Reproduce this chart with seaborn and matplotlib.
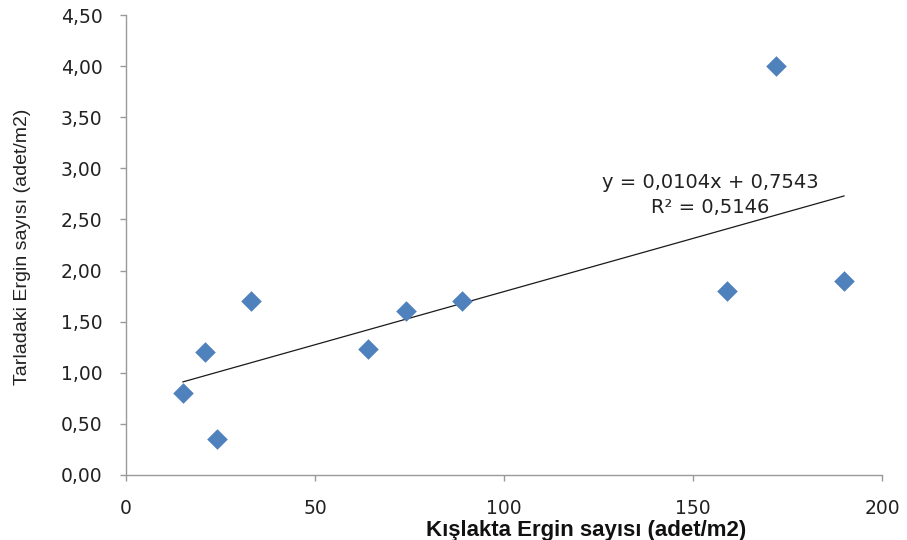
import matplotlib
matplotlib.use("Agg")
import matplotlib.pyplot as plt
import seaborn as sns
import numpy as np
import pandas as pd
from matplotlib.ticker import FuncFormatter

# Data
kislakta = [15, 21, 24, 33, 64, 74, 89, 159, 172, 190]
tarladaki = [0.80, 1.20, 0.35, 1.70, 1.23, 1.60, 1.70, 1.80, 4.00, 1.90]
slope = 0.0104
intercept = 0.7543
r2 = 0.5146
x_ticks = [0, 50, 100, 150, 200]
y_ticks = [0, 0.5, 1.0, 1.5, 2.0, 2.5, 3.0, 3.5, 4.0, 4.5]

sns.set_theme(style="white")
plt.rcParams['font.family'] = ['DejaVu Sans']

df = pd.DataFrame({"x": kislakta, "y": tarladaki})
xs = np.array([min(kislakta), max(kislakta)])
trend = pd.DataFrame({"x": xs, "y": slope * xs + intercept})

fig = plt.figure(figsize=(9.07, 5.40), dpi=100)
ax = fig.add_axes([126/907, 1-475/540, (882-126)/907, (475-15)/540])

sns.lineplot(data=trend, x="x", y="y", ax=ax, color="#1a1a1a", linewidth=0.9)
sns.scatterplot(data=df, x="x", y="y", ax=ax, marker="D", s=110,
                color="#4F81BD", edgecolor="#4F81BD", linewidth=0, zorder=3)

ax.set_xlim(0, 200)
ax.set_ylim(0, 4.5)
ax.set_xticks(x_ticks)
ax.set_yticks(y_ticks)
ax.yaxis.set_major_formatter(FuncFormatter(lambda v, p: f"{v:.2f}".replace(".", ",")))
ax.xaxis.set_major_formatter(FuncFormatter(lambda v, p: f"{int(v)}"))

for s in ["top", "right"]:
    ax.spines[s].set_visible(False)
for s in ["left", "bottom"]:
    ax.spines[s].set_color("#999999")
    ax.spines[s].set_linewidth(1.0)
ax.tick_params(axis="both", which="major", direction="out", length=4, width=1,
               color="#999999", labelsize=13.5, labelcolor="#222222",
               bottom=True, left=True)
ax.tick_params(axis="y", pad=13)
ax.tick_params(axis="x", pad=13)

ax.set_xlabel("Kışlakta Ergin sayısı (adet/m2)", fontsize=16, fontweight="bold",
              family=["Liberation Sans", "DejaVu Sans"], color="#111111")
ax.xaxis.set_label_coords(0.6085, -0.097)
ax.set_ylabel("Tarladaki Ergin sayısı (adet/m2)", fontsize=14,
              family=["Liberation Sans", "DejaVu Sans"], color="#222222")
ax.yaxis.set_label_coords(-0.126, 0.497)

ax.text(154.5, 2.86, f"y = {slope:.4f}x + {intercept:.4f}".replace(".", ","),
        fontsize=14, color="#222222", ha="center", va="center")
ax.text(154.5, 2.62, f"R² = {r2:.4f}".replace(".", ","),
        fontsize=14, color="#222222", ha="center", va="center")

fig.savefig("out.png", dpi=100)
